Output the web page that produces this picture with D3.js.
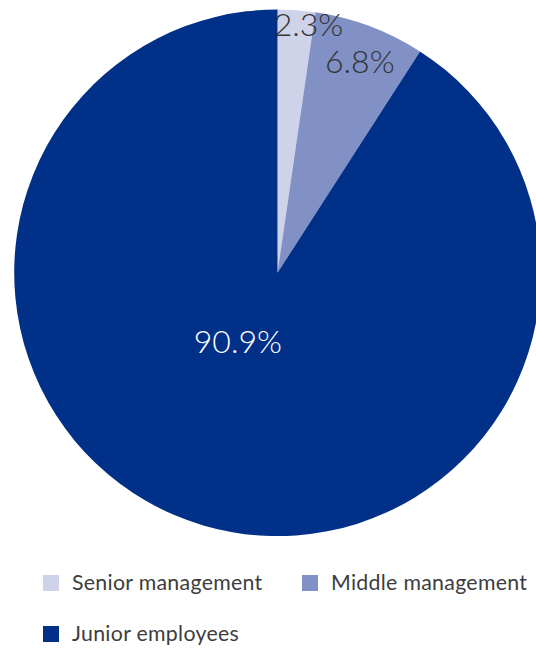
<!DOCTYPE html>
<html>
<head>
<meta charset="utf-8">
<script src="https://cdn.jsdelivr.net/npm/d3@7"></script>
<style>
  html, body { margin: 0; padding: 0; background: #fff; }
  svg { display: block; }
</style>
</head>
<body>
<svg id="chart" width="536" height="650"></svg>
<script>
// Workforce composition by level
const categories = ["Senior management", "Middle management", "Junior employees"];
const shares = [2.3, 6.8, 90.9];
const labels = ["2.3%", "6.8%", "90.9%"];
const colors = ["#cfd3ea", "#8190c5", "#003087"];
const labelColors = ["#333333", "#333333", "#ffffff"];

const svg = d3.select("#chart");
const cx = 277.5, cy = 272.8, radius = 263.3;

const pie = d3.pie().sort(null).value(d => d.value);
const data = categories.map((c, i) => ({ name: c, value: shares[i], label: labels[i], color: colors[i], textColor: labelColors[i] }));
const arcs = pie(data);

const arc = d3.arc().innerRadius(0).outerRadius(radius);

const g = svg.append("g").attr("transform", `translate(${cx},${cy})`);

g.selectAll("path.slice")
  .data(arcs)
  .join("path")
  .attr("class", "slice")
  .attr("d", arc)
  .attr("fill", d => d.data.color);

// label placement: radius and angular nudge per slice
const labelRadius = [250, 227, 79];
const labelNudge = [0.052, 0.013, 0.24];
g.selectAll("text.value")
  .data(arcs)
  .join("text")
  .attr("class", "value")
  .attr("x", (d, i) => Math.sin((d.startAngle + d.endAngle) / 2 + labelNudge[i]) * labelRadius[i])
  .attr("y", (d, i) => -Math.cos((d.startAngle + d.endAngle) / 2 + labelNudge[i]) * labelRadius[i])
  .attr("text-anchor", "middle")
  .attr("dy", "0.36em")
  .attr("font-family", "Lato, sans-serif")
  .attr("font-weight", 300)
  .attr("font-size", 32)
  .attr("fill", d => d.data.textColor)
  .text(d => d.data.label);

// legend
const legendPos = [[43, 575], [302, 575], [43, 626]];
const legend = svg.append("g");
const items = legend.selectAll("g.item")
  .data(data)
  .join("g")
  .attr("class", "item")
  .attr("transform", (d, i) => `translate(${legendPos[i][0]},${legendPos[i][1]})`);
items.append("rect")
  .attr("width", 16).attr("height", 16)
  .attr("fill", d => d.color);
items.append("text")
  .attr("x", 29).attr("y", 15)
  .attr("font-family", "Lato, sans-serif")
  .attr("font-size", 21.3)
  .attr("letter-spacing", 0.3)
  .attr("fill", "#3d3d3d")
  .text(d => d.name);
</script>
</body>
</html>
